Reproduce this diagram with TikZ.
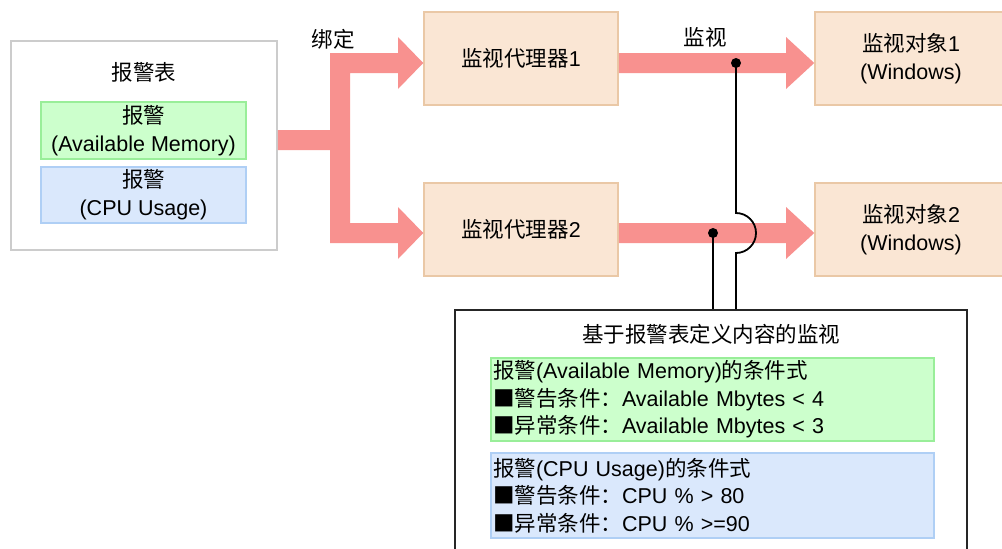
\documentclass[tikz,border=0pt]{standalone}
\usepackage{fontspec}
\setmainfont{Liberation Sans}
\newfontfamily\cjk{Noto Sans CJK SC}
\newcommand{\zh}[1]{{\cjk #1}}
\definecolor{pinkc}{RGB}{248,145,143}
\definecolor{peachfill}{RGB}{250,230,212}
\definecolor{peachdraw}{RGB}{234,200,166}
\definecolor{greenfill}{RGB}{204,255,204}
\definecolor{greendraw}{RGB}{153,238,153}
\definecolor{bluefill}{RGB}{218,232,252}
\definecolor{bluedraw}{RGB}{175,207,245}
\definecolor{graydraw}{RGB}{204,204,204}
\begin{document}
\begin{tikzpicture}[x=1pt,y=-1pt,
  base/.style={font=\fontsize{21.5}{28}\selectfont, inner sep=0pt, align=center},
  tablebox/.style={base, draw=graydraw, line width=1.5pt, fill=white, minimum width=266pt, minimum height=209pt},
  greenbox/.style={base, draw=greendraw, fill=greenfill, line width=1.5pt},
  bluebox/.style={base, draw=bluedraw, fill=bluefill, line width=1.5pt},
  condbox/.style={font=\fontsize{21.5}{27.5}\selectfont, align=left, text width=439pt, minimum width=443pt},
  peachbox/.style={base, draw=peachdraw, fill=peachfill, line width=1.5pt, minimum width=194pt, minimum height=93pt},
  monbox/.style={draw=black!85, line width=2pt, fill=white, minimum width=512pt, minimum height=300pt, inner sep=0pt},
  wire/.style={line width=1.8pt, black},
  dotmark/.style={circle, fill=black, minimum size=10pt, inner sep=0pt}
]
\clip (0,0) rectangle (1002,549);
\fill[white] (0,0) rectangle (1002,549);

% alarm table
\node[tablebox] (tbl) at (144,145.5) {};
\node[base] (tbltitle) at (144,72) {\zh{报警表}};
\node[greenbox, minimum width=205pt, minimum height=57pt] (gm) at (143.5,130.5) {\zh{报警}\\(Available Memory)};
\node[bluebox, minimum width=205pt, minimum height=56pt] (bc) at (143.5,195) {\zh{报警}\\(CPU Usage)};

% agents and targets
\node[peachbox] (a1) at (521,58.5) {\zh{监视代理器}1};
\node[peachbox] (a2) at (521,229.5) {\zh{监视代理器}2};
\node[peachbox, minimum width=192pt] (o1) at (911,58.5) {\zh{监视对象}1\\(Windows)};
\node[peachbox, minimum width=192pt] (o2) at (911,229.5) {\zh{监视对象}2\\(Windows)};

% monitoring definition box
\node[monbox, anchor=north] (mon) at (711,309) {};
\node[base] (montitle) at (711,334) {\zh{基于报警表定义内容的监视}};
\node[greenbox, condbox, minimum height=83pt] (cm) at (712.5,399.5)
  {\zh{报警}(Available Memory)\zh{的条件式}\\\zh{■警告条件：}Available Mbytes < 4\\\zh{■异常条件：}Available Mbytes < 3};
\node[bluebox, condbox, minimum height=85pt] (cc) at (712.5,495.5)
  {\zh{报警}(CPU Usage)\zh{的条件式}\\\zh{■警告条件：}CPU \% > 80\\\zh{■异常条件：}CPU \% >=90};

% binding arrow
\fill[pinkc] (tbl.east |- 0,130) -- (330,130) -- (330,53) -- (398,53) -- (398,37)
  -- (a1.west |- 0,63) -- (398,89) -- (398,73) -- (350,73) -- (350,223) -- (398,223)
  -- (398,207) -- (a2.west |- 0,233) -- (398,259) -- (398,243) -- (330,243)
  -- (330,150) -- (tbl.east |- 0,150) -- cycle;

% monitoring arrows
\fill[pinkc] (a1.east |- 0,53) -- (786,53) -- (786,37) -- (o1.west |- 0,63)
  -- (786,89) -- (786,73) -- (a1.east |- 0,73) -- cycle;
\fill[pinkc] (a2.east |- 0,223) -- (786,223) -- (786,207) -- (o2.west |- 0,233)
  -- (786,259) -- (786,243) -- (a2.east |- 0,243) -- cycle;

% labels
\node[base] (bind) at (333,39) {\zh{绑定}};
\node[base] (watch) at (705,37) {\zh{监视}};

% wires
\coordinate (d1) at (736,63);
\coordinate (d2) at (713,233);
\draw[wire] (d1) -- (736,213) .. controls (747,213) and (756,222) .. (756,233)
  .. controls (756,244) and (747,253) .. (736,253) -- (d1 |- mon.north);
\draw[wire] (d2) -- (d2 |- mon.north);
\node[dotmark] (dot1) at (d1) {};
\node[dotmark] (dot2) at (d2) {};
\end{tikzpicture}
\end{document}
